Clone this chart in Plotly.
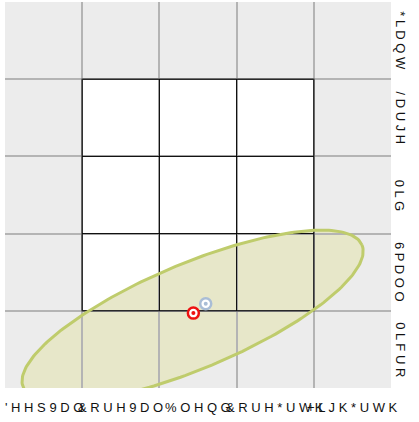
import numpy as np
import plotly.graph_objects as go

# Category labels (style columns and size rows) as they appear in the picture
style_labels = ["'HHS9DO", "&RUH9DO", "%OHQG", "&RUH*UWK", "+LJK*UWK"]
size_labels = ["*LDQW", "/DUJH", "0LG", "6PDOO", "0LFUR"]

# Points: current and previous position
point_x = [2.44, 2.60]
point_y = [0.97, 1.09]

# Ellipse parameters (center, semi-axes, rotation in degrees)
ell_cx, ell_cy = 2.43, 0.93
ell_a, ell_b = 2.38, 0.68
ell_rot = 22.8

fig = go.Figure()

t = np.linspace(0, 2 * np.pi, 240)
th = np.deg2rad(ell_rot)
ex = ell_cx + ell_a * np.cos(t) * np.cos(th) - ell_b * np.sin(t) * np.sin(th)
ey = ell_cy + ell_a * np.cos(t) * np.sin(th) + ell_b * np.sin(t) * np.cos(th)

# White 3x3 style box (below gridlines)
fig.add_shape(type="rect", x0=1, x1=4, y0=1, y1=4, xref="x", yref="y",
              fillcolor="white", line=dict(width=0), layer="below")
# Ellipse fill (below gridlines)
path = "M " + " L ".join(f"{a:.4f},{b:.4f}" for a, b in zip(ex, ey)) + " Z"
fig.add_shape(type="path", path=path, xref="x", yref="y",
              fillcolor="#e7e7c9", line=dict(width=0), layer="below")

# Box lines
fig.add_shape(type="rect", x0=1, x1=4, y0=1, y1=4, xref="x", yref="y",
              fillcolor="rgba(0,0,0,0)", line=dict(color="#2a2a2a", width=1.5),
              layer="between")
for v in [2, 3]:
    fig.add_shape(type="line", x0=v, x1=v, y0=1, y1=4, xref="x", yref="y",
                  line=dict(color="black", width=1), layer="between")
    fig.add_shape(type="line", x0=1, x1=4, y0=v, y1=v, xref="x", yref="y",
                  line=dict(color="black", width=1), layer="between")

# Ellipse outline
fig.add_trace(go.Scatter(x=ex, y=ey, mode="lines",
                         line=dict(color="#bfcc6c", width=3),
                         hoverinfo="skip", showlegend=False))

# Previous point (blue-gray target)
fig.add_trace(go.Scatter(x=[point_x[1]], y=[point_y[1]], mode="markers",
                         marker=dict(size=11, color="white",
                                     line=dict(color="#a9bdd6", width=2.5)),
                         showlegend=False))
fig.add_trace(go.Scatter(x=[point_x[1]], y=[point_y[1]], mode="markers",
                         marker=dict(size=4, color="#a9bdd6"),
                         showlegend=False))
# Current point (red target)
fig.add_trace(go.Scatter(x=[point_x[0]], y=[point_y[0]], mode="markers",
                         marker=dict(size=11, color="white",
                                     line=dict(color="#ee1111", width=2.5)),
                         showlegend=False))
fig.add_trace(go.Scatter(x=[point_x[0]], y=[point_y[0]], mode="markers",
                         marker=dict(size=4, color="#ee1111"),
                         showlegend=False))

font = dict(family="Liberation Sans, Arial, sans-serif", size=13, color="#111111")

for i, lab in enumerate(style_labels):
    fig.add_annotation(x=i + 0.5, y=-0.05, xref="x", yref="paper",
                       text=" ".join(lab), showarrow=False, font=font,
                       xanchor="center", yanchor="middle")

for i, lab in enumerate(size_labels):
    fig.add_annotation(x=1.024, y=4.5 - i, xref="paper", yref="y",
                       text=" ".join(lab), showarrow=False, font=font,
                       textangle=90, xanchor="center", yanchor="middle")

fig.update_xaxes(range=[0, 5], tickvals=[1, 2, 3, 4], showticklabels=False,
                 gridcolor="#b4b4b4", gridwidth=1.5, zeroline=False,
                 showline=False, fixedrange=True)
fig.update_yaxes(range=[0, 5], tickvals=[1, 2, 3, 4], showticklabels=False,
                 gridcolor="#b4b4b4", gridwidth=1.5, zeroline=False,
                 showline=False, fixedrange=True)

fig.update_layout(width=419, height=422,
                  margin=dict(l=5, r=28, t=2, b=34),
                  plot_bgcolor="#ececec", paper_bgcolor="white",
                  showlegend=False)

fig.write_html("out.html", config={"displayModeBar": False},
               post_script="document.body.style.margin='0';")
